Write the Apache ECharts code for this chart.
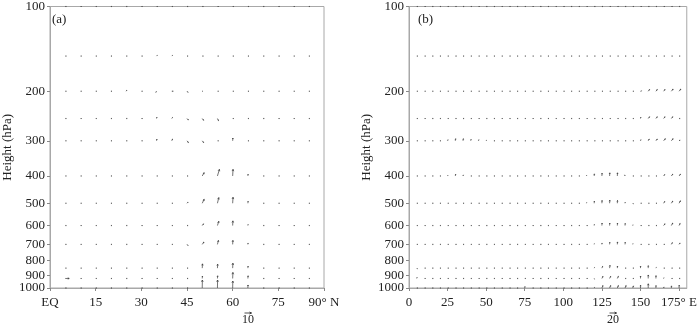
<!DOCTYPE html>
<html><head><meta charset="utf-8">
<script src="https://cdn.jsdelivr.net/npm/echarts@6/dist/echarts.min.js"></script>
<style>html,body{margin:0;padding:0;background:#fff}#c{width:700px;height:326px}</style>
</head><body><div id="c"></div>
<script>
const levels = [100,150,200,250,300,400,500,600,700,850,925,1000];
const yTicks = [100,200,300,400,500,600,700,800,900,1000];
const latA = [5,10,15,20,25,30,35,40,45,50,55,60,65,70,75,80,85];
const lonB = [5,10,15,20,25,30,35,40,45,50,55,60,65,70,75,80,85,90,95,100,105,110,115,120,125,130,135,140,145,150,155,160,165,170,175];
const xTicksA = [0,15,30,45,60,75,90];
const xTicksB = [0,25,50,75,100,125,150,175];

// panel (a): meridional component (u) and vertical component (w), rows = levels
const uA = [
 [1.5,1.5,1.5,1.5,1.5,1.5,1.5,1.5,1.5,1.5,1.5,1.5,1.5,1.5,1.5,1.5,1.5],
 [1.5,1.5,1.5,1.5,1.5,1.5,1,1,1.5,1.5,1.5,1.5,1.5,1.5,1.5,1.5,1.5],
 [1.5,1.5,1.5,1.5,1,1.5,-1,2,1.5,1,1.5,1.5,1.5,1.5,1.5,1.5,1.5],
 [1.5,1.5,1.5,1.5,1.5,1.5,0.5,1,2,2,1.5,1.5,1.5,1.5,1.5,1.5,1.5],
 [1.5,1.5,1.5,1.5,1.5,1.5,0.5,1,2,2,1.5,0.3,1.5,1.5,1.5,1.5,1.5],
 [1.5,1.5,1.5,1.5,1.5,1.5,1.5,1.5,1.5,2.8,2.8,0.5,0.3,1.5,1.5,1.5,1.5],
 [1.5,1.5,1.5,1.5,1.5,1.5,1.5,1.5,1.5,2.8,1.9,0.5,0.3,1.5,1.5,1.5,1.5],
 [1.5,1.5,1.5,1.5,1.5,1.5,1.5,1.5,1.5,1.9,1.9,0.3,0.3,1.5,1.5,1.5,1.5],
 [1.5,1.5,1.5,1.5,1.5,1.5,1.5,1.5,1.5,2.4,1.4,0.3,0.3,1.5,1.5,1.5,1.5],
 [1.5,1.5,1.5,1.5,1.5,1.5,1.5,1.5,1.5,0.4,0.3,0.3,0.3,1.5,1.5,1.5,1.5],
 [5.7,1.5,1.5,1.5,1.5,1.5,1.5,1.5,1.5,0.3,0.3,0.3,0.3,1.5,1.5,1.5,1.5],
 [1.5,1.5,1.5,1.5,1.5,1.5,1.5,1.5,1.5,0.2,0.2,0.2,0.2,1.5,1.5,1.5,1.5]
];
const wA = [
 [0,0,0,0,0,0,0,0,0,0,0,0,0,0,0,0,0],
 [0,0,0,0,0,0,1,1,0,0,0,0,0,0,0,0,0],
 [0,0,0,0,1.5,0,-1.5,0,-1.5,0,0,0,0,0,0,0,0],
 [0,0,0,0,0,0,2,1.5,-2,-2.5,-3,0,0,0,0,0,0],
 [0,0,0,0,0,0,2.5,2.5,-2.5,-2.5,0,4,0,0,0,0,0],
 [0,0,0,0,0,0,0,0,0,4.7,9.5,9.5,2.5,0,0,0,0],
 [0,0,0,0,0,0,0,0,1.5,5.7,8.1,8.6,2.8,0,0,0,0],
 [0,0,0,0,0,0,0,0,0,2.4,6.1,6.7,1.5,0,0,0,0],
 [0,0,0,0,0,0,0,0,-1.5,3.3,5.7,5.7,2,0,0,0,0],
 [0,0,0,0,0,0,0,0,0,6.1,5.7,7.1,2.8,0,0,0,0],
 [0,0,0,0,0,0,0,0,0,3.3,3.8,8.6,3.8,0,0,0,0],
 [0,0,0,0,0,0,0,0,0,11.4,11.4,10,4.3,0,0,0,0]
];
// panel (b): zonal component (u) and vertical component (w)
const uB = [
 [3,3,3,3,3, 3,3,3,3,3, 3,3,3,3,3, 3,3,3,3,3, 3,3,3,3,3, 3,3,3,3,3, 3,3,3,3,3],
 [3,3,3,3,3, 3,3,3,3,3, 3,3,3,3,3, 3,3,3,3,3, 3,3,3,3,3, 3,3,3,3,3, 3,3,3,3,3],
 [3,3,3,3,3, 3,3,3,3,3, 3,3,3,3,3, 3,3,3,3,3, 3,3,3,3,3, 3,3,3,3,3, 4,4,4,5,5],
 [3,3,3,3,3, 3,3,3,3,3, 3,3,3,3,3, 3,3,3,3,3, 3,3,3,3,3, 3,3,3,3,1, 4,4,4,4,3],
 [3,3,3,3,1, 1,1,1,1,1, 3,3,3,3,3, 3,3,3,3,3, 3,3,3,3,3, 3,3,3,3,1, 3,4,5,5,3],
 [3,3,3,3,1, 1,1,3,3,3, 3,3,3,3,3, 3,3,3,3,3, 3,3,0.5,0.5,0.5, 0.5,0.5,-1,3,3, 3,3,3,4,4],
 [3,3,3,3,3, 3,3,3,3,3, 3,3,3,3,3, 3,3,3,3,3, 3,3,0.5,0.5,0.5, 0.5,0.5,0.5,2,3, 3,3,3,4,4],
 [3,3,3,3,3, 3,3,3,3,3, 3,3,3,3,3, 3,3,3,3,3, 3,3,3,0.5,0.5, 0.5,0.5,0.5,0.5,3, 3,3,4,4,3],
 [3,3,3,3,3, 3,3,3,3,3, 3,3,3,3,3, 3,3,3,3,3, 3,3,3,0.5,0.5, 0.5,0.5,0.5,0.5,3, 3,3,3,3,3],
 [2,3,3,3,3, 3,3,3,3,3, 3,3,3,3,3, 3,3,3,3,3, 3,3,3,1,2, 1,0.5,3,3,0.3, 0.3,1,3,3,3],
 [1,3,3,3,3, 3,3,3,3,3, 3,3,3,3,3, 3,3,3,3,3, 3,3,3,1,3, 3,3,3,3,0.3, 0.3,0.3,1,3,3],
 [3,3,3,3,3, 3,3,3,3,3, 3,3,3,3,0.5, 3,3,3,3,3, 3,3,3,1,3, 3,3,3,2,0.3, 0.3,0.3,1,0.5,0.5]
];
const wB = [
 [0,0,0,0,0, 0,0,0,0,0, 0,0,0,0,0, 0,0,0,0,0, 0,0,0,0,0, 0,0,0,0,0, 0,0,0,0,0],
 [0,0,0,0,0, 0,0,0,0,0, 0,0,0,0,0, 0,0,0,0,0, 0,0,0,0,0, 0,0,0,0,0, 0,0,0,0,0],
 [0,0,0,0,0, 0,0,0,0,0, 0,0,0,0,0, 0,0,0,0,0, 0,0,0,0,0, 0,0,0,0,1, 5,5,5,6,6],
 [0,0,0,0,0, 0,0,0,0,0, 0,0,0,0,0, 0,0,0,0,0, 0,0,0,0,0, 0,0,0,0,4, 5,5,5,5,0],
 [0,0,0,0,3, 6,6,4,3,2, 0,0,0,0,0, 0,0,0,0,0, 0,0,0,0,0, 0,0,0,0,3, 5,5,6,6,2],
 [0,0,0,0,2, 5,3,0,0,0, 0,0,0,0,0, 0,0,0,0,0, 0,0,2,6,8, 9,9,3,0,0, 0,0,4,5,5],
 [0,0,0,0,0, 0,0,0,0,0, 0,0,0,0,0, 0,0,0,0,0, 0,0,2,6,8, 9,8,3,-2,0, 0,0,5,6,7],
 [0,0,0,0,0, 0,0,0,0,0, 0,0,0,0,0, 0,0,0,0,0, 0,0,0,3,7, 7,7,6,2,0, 0,0,5,7,6],
 [0,0,0,0,0, 0,0,0,0,0, 0,0,0,0,0, 0,0,0,0,0, 0,0,0,2,4, 6,7,6,2,0, 0,0,0,5,4],
 [-2,0,0,0,0, 0,0,0,0,0, 0,0,0,0,0, 0,0,0,0,0, 0,0,0,2,5, 8,6,0,0,6, 7,2,0,0,0],
 [3,0,0,0,0, 0,0,0,0,0, 0,0,0,0,0, 0,0,0,0,0, 0,0,0,-2,6, 6,6,0,0,7, 10,8,2,0,0],
 [0,0,0,0,0, 0,0,0,0,0, 0,0,0,0,4, 0,0,0,0,0, 0,0,0,2,7, 7,7,7,6,8, 12,7,3,6,8]
];
const refA = 10, refB = 20;

const pxA = 0.7, pxB = 0.35;   // pixels per wind unit
const serif = '"Liberation Serif","DejaVu Serif",serif';
const ink = '#222';
const vecInk = '#3a3a3a';

function build(xs, U, W) {
  const out = [];
  levels.forEach((p, i) => xs.forEach((x, j) => out.push([x, p, U[i][j], W[i][j]])));
  return out;
}
function arrowRender(k) {
  return function (params, api) {
    const pt = api.coord([api.value(0), api.value(1)]);
    const dx = api.value(2) * k, dy = -api.value(3) * k;
    const len = Math.hypot(dx, dy);
    const x2 = pt[0] + dx, y2 = pt[1] + dy;
    const ch = [{type: 'line', shape: {x1: pt[0], y1: pt[1], x2: x2, y2: y2},
                 style: {stroke: vecInk, lineWidth: 0.7}}];
    if (len > 0.6) {
      const h = Math.min(2, len * 0.4), a = Math.atan2(dy, dx);
      const a1 = a + Math.PI - 0.45, a2 = a + Math.PI + 0.45;
      ch.push({type: 'polyline', shape: {points: [[x2 + h * Math.cos(a1), y2 + h * Math.sin(a1)], [x2, y2], [x2 + h * Math.cos(a2), y2 + h * Math.sin(a2)]]},
               style: {stroke: vecInk, fill: null, lineWidth: 0.7}});
    }
    return {type: 'group', children: ch};
  };
}
function xAxisCfg(gi, max, ticks, fmt) {
  return {
    type: 'value', gridIndex: gi, min: 0, max: max,
    axisLine: {show: true, lineStyle: {color: '#a8a8a8'}},
    axisTick: {show: true, customValues: ticks, length: 3, lineStyle: {color: '#888'}},
    axisLabel: {customValues: ticks, formatter: fmt, color: ink, fontFamily: serif, fontSize: 13, margin: 8},
    splitLine: {show: false}
  };
}
function yAxisCfg(gi) {
  return {
    type: 'log', logBase: 10, gridIndex: gi, min: 100, max: 1000, inverse: true,
    name: 'Height (hPa)', nameLocation: 'middle', nameGap: 36,
    nameTextStyle: {color: ink, fontFamily: serif, fontSize: 13},
    axisLine: {show: true, lineStyle: {color: '#a8a8a8'}},
    axisTick: {show: true, customValues: yTicks, length: 3, lineStyle: {color: '#888'}},
    axisLabel: {customValues: yTicks, formatter: v => String(Math.round(v)), color: ink, fontFamily: serif, fontSize: 13, margin: 5},
    splitLine: {show: false}, minorTick: {show: false}
  };
}
function keyArrow(cx, cy, len, label) {
  return {type: 'group', children: [
    {type: 'line', shape: {x1: cx - len / 2, y1: cy, x2: cx + len / 2, y2: cy}, style: {stroke: ink, lineWidth: 0.8}},
    {type: 'polyline', shape: {points: [[cx + len / 2 - 2, cy - 1], [cx + len / 2, cy], [cx + len / 2 - 2, cy + 1]]}, style: {stroke: ink, fill: null, lineWidth: 0.8}},
    {type: 'text', style: {x: cx, y: cy + 1, text: label, textAlign: 'center', textVerticalAlign: 'top', fill: ink, font: '12px ' + serif}}
  ]};
}

const chart = echarts.init(document.getElementById('c'), null, {renderer: 'canvas'});
chart.setOption({
  animation: false,
  backgroundColor: '#fff',
  grid: [
    {left: 43, top: 4, width: 281, height: 284, show: true, borderColor: '#a8a8a8', borderWidth: 1, backgroundColor: 'transparent'},
    {left: 409, top: 4, width: 281, height: 284, show: true, borderColor: '#a8a8a8', borderWidth: 1, backgroundColor: 'transparent'}
  ],
  title: [
    {text: '(a)', left: 47, top: 8, textStyle: {fontFamily: serif, fontSize: 13, fontWeight: 'normal', color: ink}},
    {text: '(b)', left: 413, top: 8, textStyle: {fontFamily: serif, fontSize: 13, fontWeight: 'normal', color: ink}}
  ],
  xAxis: [
    xAxisCfg(0, 90, xTicksA, v => v === 0 ? 'EQ' : (v === 90 ? '90° N' : String(v))),
    xAxisCfg(1, 180, xTicksB, v => v === 175 ? '175° E' : String(v))
  ],
  yAxis: [yAxisCfg(0), yAxisCfg(1)],
  graphic: [keyArrow(248, 313, refA * pxA, String(refA)), keyArrow(613, 313, refB * pxB, String(refB))],
  series: [
    {type: 'custom', xAxisIndex: 0, yAxisIndex: 0, clip: false, silent: true,
     dimensions: ['x', 'p', 'u', 'w'], encode: {x: 0, y: 1},
     renderItem: arrowRender(pxA), data: build(latA, uA, wA)},
    {type: 'custom', xAxisIndex: 1, yAxisIndex: 1, clip: false, silent: true,
     dimensions: ['x', 'p', 'u', 'w'], encode: {x: 0, y: 1},
     renderItem: arrowRender(pxB), data: build(lonB, uB, wB)}
  ]
});
</script></body></html>
